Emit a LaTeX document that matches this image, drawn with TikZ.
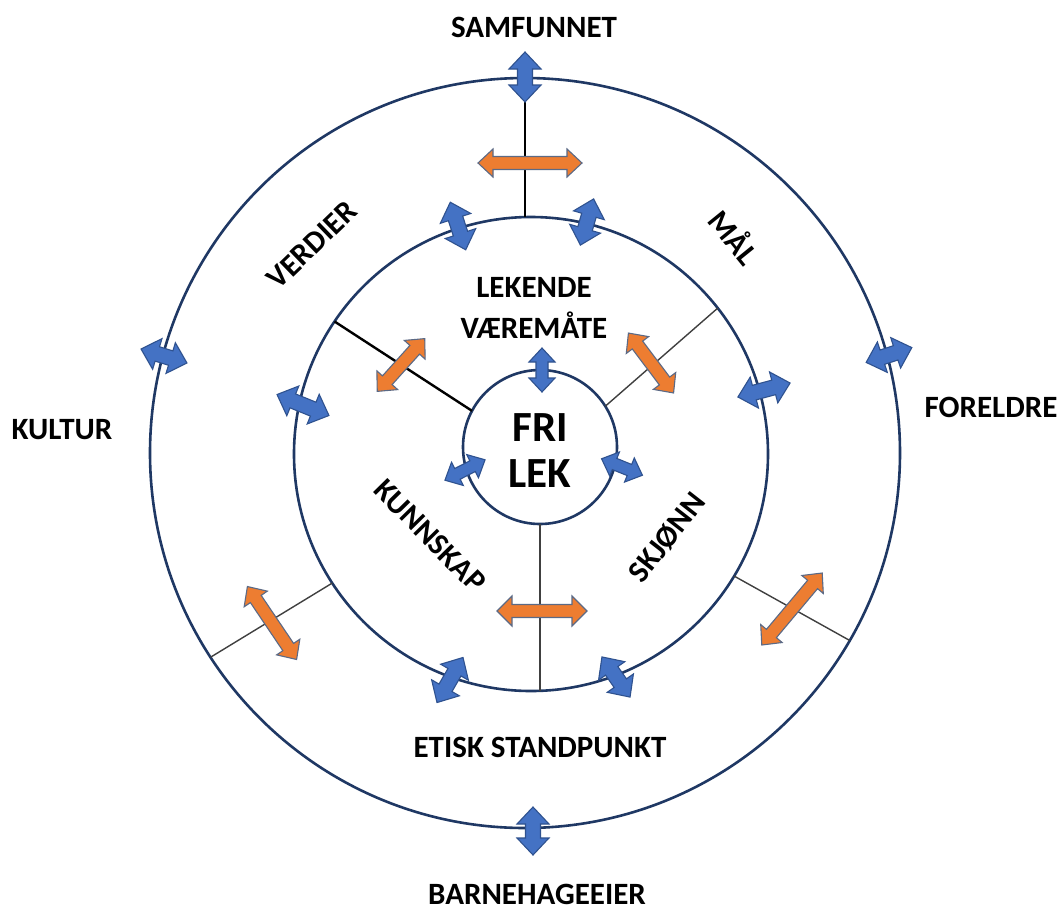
\documentclass[tikz,border=0pt]{standalone}
\usepackage{fontspec}
\setmainfont{Carlito}
\definecolor{ringcol}{HTML}{1F3864}
\definecolor{bluefill}{HTML}{4472C4}
\definecolor{blueline}{HTML}{2F528F}
\definecolor{orangefill}{HTML}{ED7D31}
\definecolor{orangeline}{HTML}{5B6A86}
\definecolor{thinline}{HTML}{404040}
\tikzset{
  ring/.style={circle, draw=ringcol, line width=2.6pt, inner sep=0pt, outer sep=0pt},
  lbl/.style={font=\fontsize{31}{36}\selectfont\bfseries, text height=20pt, text depth=0pt, inner sep=0pt},
  biglbl/.style={font=\fontsize{43}{50}\selectfont\bfseries, text height=27.7pt, text depth=0pt, inner sep=0pt},
  thickdiv/.style={draw=black, line width=2.4pt},
  thindiv/.style={draw=thinline, line width=1.4pt},
  bstyle/.style={fill=bluefill, draw=blueline, line width=1.1pt, line join=miter},
  ostyle/.style={fill=orangefill, draw=orangeline, line width=1.1pt, line join=miter},
  pics/barrow/.style args={#1/#2/#3/#4}{code={
    \filldraw[bstyle] (-#1/2,0) -- (-#1/2+#2,#3/2) -- (-#1/2+#2,#4/2) -- (#1/2-#2,#4/2) -- (#1/2-#2,#3/2) -- (#1/2,0) -- (#1/2-#2,-#3/2) -- (#1/2-#2,-#4/2) -- (-#1/2+#2,-#4/2) -- (-#1/2+#2,-#3/2) -- cycle;
  }},
  pics/oarrow/.style args={#1/#2/#3/#4}{code={
    \filldraw[ostyle] (-#1/2,0) -- (-#1/2+#2,#3/2) -- (-#1/2+#2,#4/2) -- (#1/2-#2,#4/2) -- (#1/2-#2,#3/2) -- (#1/2,0) -- (#1/2-#2,-#3/2) -- (#1/2-#2,-#4/2) -- (-#1/2+#2,-#4/2) -- (-#1/2+#2,-#3/2) -- cycle;
  }}
}
\begin{document}
\begin{tikzpicture}[x=1pt,y=-1pt]
\useasboundingbox[fill=white] (0,0) rectangle (1061,906);

% rings
\node[ring, minimum size=750pt] (outer) at (525,453) {};
\node[ring, minimum size=474pt] (middle) at (531,454) {};
\node[ring, minimum size=154pt] (inner) at (540,447) {};

% dividers
\draw[thickdiv] (outer.north) -- (outer.north |- middle.north);
\draw[thickdiv] (middle.146) -- (inner.152);
\draw[thindiv] (inner.32) -- (middle.38);
\draw[thindiv] (inner.south) -- (inner.south |- middle.south);
\draw[thindiv] (middle.213) -- (outer.213);
\draw[thindiv] (middle.329) -- (outer.330);

% blue arrows
\pic[rotate=90]  (b1)  at (525,77)  {barrow={50/17/32/15}};
\pic[rotate=90]  (b2)  at (533,831) {barrow={48/17/32/15}};
\pic[rotate=-17] (b3)  at (164,356) {barrow={48/17/32/15}};
\pic[rotate=18]  (b4)  at (889,355) {barrow={48/17/32/15}};
\pic[rotate=108] (b5)  at (458,226) {barrow={50/17/32/15}};
\pic[rotate=74]  (b6)  at (587,222) {barrow={48/17/32/15}};
\pic[rotate=-22] (b7)  at (303,405) {barrow={56/17/32/15}};
\pic[rotate=15]  (b8)  at (764,390) {barrow={54/17/32/15}};
\pic[rotate=60]  (b9)  at (450,680) {barrow={52/17/32/15}};
\pic[rotate=-55] (b10) at (616,677) {barrow={49/17/32/15}};
\pic[rotate=90]  (b11) at (542,370) {barrow={44/14/26/12}};
\pic[rotate=27]  (b12) at (465,470) {barrow={45/14/26/12}};
\pic[rotate=-22] (b13) at (622,467) {barrow={44/14/26/12}};

% orange arrows
\pic[rotate=0]   (o1) at (530,163) {oarrow={104/15/28/13}};
\pic[rotate=0]   (o2) at (542,611) {oarrow={90/15/30/13}};
\pic[rotate=48]  (o3) at (401,365) {oarrow={71/15/28/13}};
\pic[rotate=-53] (o4) at (651,363) {oarrow={75/15/28/13}};
\pic[rotate=-56] (o5) at (272,623) {oarrow={88/15/28/13}};
\pic[rotate=50]  (o6) at (792,609) {oarrow={94/15/28/13}};

% labels
\node[lbl] (samf) at (534,27) {SAMFUNNET};
\node[lbl] (kult) at (62,429) {KULTUR};
\node[lbl] (forel) at (991,407) {FORELDRE};
\node[lbl] (barn) at (537,894) {BARNEHAGEEIER};
\node[lbl] (etisk) at (540,747) {ETISK STANDPUNKT};
\node[lbl] (lek1) at (534,287) {LEKENDE};
\node[lbl] (lek2) at (534,328) {VÆREMÅTE};
\node[lbl, rotate=44] (verd) at (312,245) {VERDIER};
\node[lbl, rotate=-51] (maal) at (733,238) {MÅL};
\node[lbl, rotate=-45.5] (kunn) at (430,536) {KUNNSKAP};
\node[lbl, rotate=52] (skj) at (667,537) {SKJØNN};
\node[biglbl] (fri) at (540,428) {FRI};
\node[biglbl] (lek) at (540,474) {LEK};
\end{tikzpicture}
\end{document}
